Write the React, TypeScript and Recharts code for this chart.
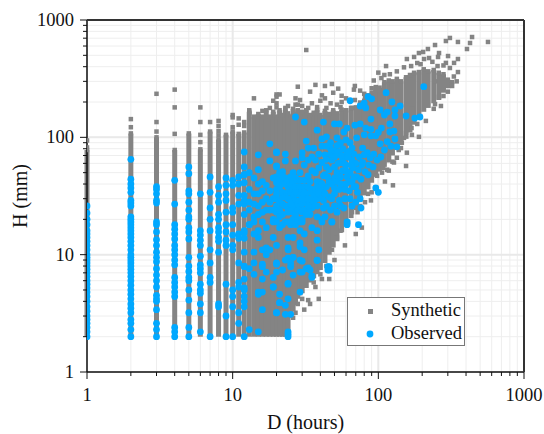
import {
  ScatterChart,
  Scatter,
  XAxis,
  YAxis,
  CartesianGrid,
  ErrorBar,
  Legend,
  ReferenceLine,
} from "recharts";

const FONT = "'Liberation Serif', 'Times New Roman', serif";
const GREY = "#848484";
const BLUE = "#00a8ff";

const logTicks = [
  1, 2, 3, 4, 5, 6, 7, 8, 9, 10, 20, 30, 40, 50, 60, 70, 80, 90, 100, 200, 300,
  400, 500, 600, 700, 800, 900, 1000,
];
const decades = [1, 10, 100, 1000];

// Synthetic cloud is too dense to read point by point, so each duration is a low-high band
const bandDurations = [
  1, 2, 3, 4, 5, 6, 7, 8, 9, 10, 11, 12, 13, 14, 15, 16, 17, 18, 19, 20, 21, 22,
  23, 24, 25, 26, 27, 28, 29, 30, 32, 34, 36, 38, 40, 43, 46, 49, 52, 56, 60, 65,
  70, 75, 80, 85, 90, 96, 102, 110, 118, 125, 134, 143, 155, 165, 176, 190, 205,
  220, 240, 260, 280, 300, 320,
];
const bandLow = [
  2, 2, 2, 2, 2, 2, 2, 2, 2, 2, 2, 2, 2, 2, 2, 2, 2, 2, 2, 2, 2, 2, 2, 2, 2.9,
  3.3, 3.7, 4.2, 4.5, 4.7, 5.2, 5.8, 6.3, 6.8, 7.4, 8.5, 10, 11.5, 13, 15.5, 18,
  20.5, 24, 28, 32, 36, 41, 46, 51, 56, 61, 70, 78, 86, 97, 110, 128, 148, 165,
  178, 195, 208, 240, 262, 285,
];
const bandHigh = [
  78, 108, 100, 78, 108, 79, 112, 96, 105, 112, 107, 110, 165, 150, 158, 150, 170,
  150, 165, 150, 170, 155, 172, 160, 150, 175, 158, 170, 155, 165, 170, 155, 162,
  172, 155, 168, 158, 170, 160, 172, 170, 178, 180, 198, 205, 228, 240, 255, 265,
  295, 305, 300, 315, 300, 325, 340, 355, 360, 380, 365, 375, 355, 345, 310, 295,
];

const syntheticOutliers: [number, number][] = [
  [1, 94], [1, 82], [2, 143], [2, 122], [3, 235], [3, 135], [3, 112], [4, 255],
  [4, 180], [4, 107], [6, 180], [6, 135], [6, 105], [6, 91], [7, 135], [8, 138],
  [8, 125], [8, 113], [8, 104], [10, 155], [10, 148], [10, 122], [11, 145],
  [11, 128], [12, 135], [12, 125], [13, 170], [13, 160], [14, 215], [16, 168],
  [18, 178], [20, 232], [21, 232], [20, 222], [19, 205], [20, 195], [20, 180],
  [23, 178], [27, 190], [30, 185], [33, 178], [38, 181], [44, 178], [56, 200],
  [55, 181], [66, 178], [69, 208], [81, 221], [32, 555], [37, 280], [28, 270],
  [34, 245], [43, 274], [48, 285], [53, 260], [49, 240], [41, 228], [43, 215],
  [56, 226], [27, 215], [69, 274], [68, 255], [75, 250], [100, 356], [110, 340],
  [134, 365], [93, 305], [96, 268], [113, 405], [310, 703], [291, 662], [352, 650],
  [440, 716], [426, 637], [566, 650], [406, 566], [245, 612], [219, 566], [203, 534],
  [190, 523], [261, 523], [301, 493], [257, 484], [223, 474], [206, 465], [176, 484],
  [157, 465], [352, 465], [331, 431], [291, 431], [168, 405], [352, 360], [321, 274],
  [261, 221], [245, 192], [269, 185], [212, 138], [190, 101], [155, 57], [126, 39],
  [111, 42], [89, 29], [81, 28], [72, 23], [143, 81], [157, 74], [134, 67], [128, 61],
  [118, 52], [169, 120], [155, 109], [150, 99], [138, 78], [115, 53], [106, 50],
  [90, 34], [66, 23], [77, 17], [70, 15], [59, 12], [52, 14], [50, 9], [46, 6.2],
  [41, 6.2], [37, 5.3], [39, 4.2], [34, 3.8], [33, 4.1], [31, 3.4], [28, 3.8],
  [27, 3.2], [170, 175], [215, 270], [245, 300], [280, 410], [195, 420], [29, 208],
  [28, 190], [24, 185], [35, 195], [40, 205], [47, 195], [52, 190], [60, 215],
  [80, 235], [90, 262], [105, 320], [120, 345], [150, 395], [185, 430], [235, 440],
  [255, 405], [310, 390], [330, 330], [345, 300], [300, 245], [280, 225], [240, 175],
  [185, 130], [170, 105], [145, 90], [125, 62], [108, 55], [98, 47], [85, 33], [75, 26],
  [62, 19], [55, 16], [48, 11], [44, 8], [40, 6.8], [36, 5.8], [30, 4.2], [26, 2.9],
];

const observedColumns: [number, number[]][] = [
  [1, [2, 2.2, 2.4, 2.6, 2.8, 3, 3.3, 3.6, 4, 4.4, 4.8, 5.2, 5.6, 6, 6.5, 7, 7.5, 8, 8.5, 9, 9.5, 10, 11, 12, 13, 14, 15, 16, 18, 20, 22.6, 26]],
  [2, [65, 44, 40, 37, 34, 29, 27.6, 26, 21, 20, 19, 18, 17, 16, 15, 14, 13, 12, 11, 10, 9.5, 9, 8.5, 8, 7.5, 7, 6.5, 6, 5.5, 5, 4.6, 4.2, 3.8, 3.5, 3.2, 2.8, 2.6, 2.3, 2]],
  [3, [38, 36, 33, 29, 27.5, 19, 18, 15.6, 13.4, 12, 10.5, 9.5, 8.7, 7.6, 6.7, 6, 5.3, 4.5, 4.2, 4, 3.4, 2.6, 2.3, 2]],
  [4, [43, 27, 18, 16.5, 15, 13.6, 12, 11, 10, 9, 8.2, 6.4, 5.8, 5.3, 4.8, 4.4, 2.4, 2.2, 2]],
  [5, [56, 49, 35, 33, 28, 24, 21, 20, 17, 15.6, 13.6, 9.5, 8, 7.2, 6.4, 6, 5, 4.1, 3.2, 2.4, 2]],
  [6, [33, 16, 14.7, 13.3, 12, 9.7, 8.2, 7.6, 7, 5.6, 5, 4.7, 3.8, 3.2, 2.2]],
  [7, [46, 34, 25, 20, 16, 11, 8.5, 6.4, 5.8, 2]],
  [8, [38, 32, 28, 22, 20, 17, 15.6, 14, 13, 10.5, 3.8, 3.6]],
  [9, [45, 39, 33, 29, 23, 18, 15.6, 13.3, 12, 5.6, 3, 2]],
  [10, [43, 39, 25, 23, 18, 14.7, 12, 11, 5, 4.4, 3.6, 2]],
  [11, [46, 40, 32, 27, 15, 13.8, 8.5, 5.8, 5.3, 3.2, 2.6]],
  [12, [48, 32, 27, 22, 16, 13.8, 10.5, 8, 6.2, 5.2, 4.4, 4, 3.6, 2]],
];

const observedCloud: [number, number][] = [
  [205, 270], [113, 240], [64, 205], [85, 222], [90, 213], [80, 196], [75, 185], [82, 178],
  [124, 200], [141, 185], [103, 171], [115, 164], [130, 171], [110, 155], [130, 152], [155, 152],
  [178, 146], [193, 149], [89, 143], [27, 149], [31, 135], [42, 135], [50, 130], [54, 130],
  [75, 130], [69, 127], [38, 115], [61, 120], [58, 111], [120, 130], [89, 117], [120, 111],
  [128, 113], [89, 103], [96, 103], [80, 105], [71, 99], [32, 93], [41, 97], [44, 101],
  [52, 99], [60, 95], [130, 97], [122, 84], [134, 83], [103, 88], [78, 81], [33, 81],
  [36, 81], [41, 84], [47, 90], [55, 90], [64, 90], [66, 81], [84, 74], [93, 72],
  [104, 68], [80, 71], [88, 67], [68, 72], [20, 74], [23, 72], [30, 74], [43, 71],
  [54, 71], [61, 74], [23, 63], [27, 63], [30, 67], [33, 64], [37, 64], [41, 61],
  [48, 64], [56, 61], [66, 64], [78, 61], [20, 57], [31, 58], [44, 56], [73, 53],
  [81, 51], [64, 50], [22, 51], [26, 50], [29, 50], [37, 50], [43, 48], [52, 50],
  [61, 46], [20, 46], [23, 45], [28, 43], [31, 43], [38, 42], [50, 45], [63, 42],
  [70, 38], [96, 37], [100, 34], [20, 36], [24, 38], [30, 37], [35, 36], [42, 36],
  [50, 37], [54, 36], [59, 36], [68, 38], [22, 31], [26, 31], [31, 29], [36, 28],
  [42, 29], [46, 31], [54, 29], [59, 30], [20, 26], [24, 25], [29, 24], [35, 25],
  [50, 26], [58, 25], [20, 23], [26, 23], [43, 21], [52, 23], [73, 18], [61, 18],
  [48, 19], [38, 16], [31, 15], [26, 14], [21, 17], [29, 16], [35, 17], [41, 20],
  [24, 14], [19, 14], [39, 11], [31, 11], [24, 11], [20, 12], [38, 8.9], [29, 9],
  [26, 9.5], [23, 9], [20, 8.3], [46, 7.9], [46, 7.4], [35, 6.6], [32, 7.6], [29, 7.1],
  [26, 6.7], [25, 7.9], [22, 7.4], [20, 7.1], [24, 5.6], [19, 5.3], [29, 4.8], [21, 4.6],
  [24, 4.2], [21, 3.9], [23, 3.7], [20, 3.2], [23, 3.1], [25, 3.1], [24, 2.2], [24, 2],
  [24, 2.1], [18, 88], [15, 71], [20, 75], [12, 75], [12, 56], [18, 63], [20, 56],
  [15, 53], [13, 50], [21, 50], [12, 48], [16, 42], [17, 39], [22, 42], [29, 43],
  [12, 41], [13, 36], [15, 33], [20, 30], [24, 34], [12, 29], [14, 21], [16, 23],
  [18, 24], [21, 24], [25, 24], [30, 20], [14, 19], [17, 17], [22, 18], [38, 21],
  [25, 29], [32, 28], [40, 41], [19, 45], [21, 38], [22, 34], [23, 31], [24, 30],
  [25, 34], [26, 36], [27, 29], [28, 33], [21, 28], [22, 27], [23, 26], [24, 23],
  [25, 27], [26, 26], [27, 22], [28, 24], [30, 27], [20, 33], [18, 35], [19, 30],
  [18, 28], [17, 30], [16, 35], [15, 40], [14, 45], [14, 33], [15, 26], [16, 28],
  [17, 24], [13, 28], [13, 24], [14, 27], [15, 22], [16, 19], [19, 20], [20, 19],
  [21, 21], [22, 22], [23, 19], [24, 19], [25, 18], [26, 20], [27, 18], [28, 20],
  [29, 19], [30, 23], [19, 24], [13, 18], [15, 14], [14, 10.5], [16, 11], [13, 7.6],
  [14, 6.8], [16, 6.2], [17, 7.1], [15, 4.8], [16, 4.8], [19, 5.3], [16, 3.4], [15, 2.2],
  [18, 11], [15, 16], [17, 10], [16, 8.3], [13, 18], [14, 15], [12, 15.3], [19, 19],
  [25, 19], [30, 19], [41, 19], [48, 19], [61, 19], [38, 13.3], [29, 12.6], [17, 11.4],
  [24, 11.4], [29, 11.7], [26, 9.5], [24, 9.4], [30, 8.8], [38, 9], [14, 8.5], [20, 8.5],
  [25, 8.5], [12, 7.9], [16, 7.9], [33, 7.7], [34, 7.4], [45, 7.9], [45, 7.4], [19, 6.4],
  [30, 7.1], [35, 6.4], [24, 5.7], [12, 5], [15, 4.6], [21, 3.9], [20, 3.2], [13, 2.3],
  [20, 41], [21, 44], [22, 47], [23, 40], [24, 43], [25, 46], [25, 40], [26, 42],
  [27, 38], [27, 45], [28, 38], [29, 34], [29, 38], [30, 32], [31, 34], [31, 38],
  [32, 33], [33, 30], [33, 38], [34, 34], [34, 42], [35, 29], [36, 32], [37, 35],
  [38, 30], [39, 33], [40, 36], [41, 30], [42, 25], [43, 33], [44, 38], [46, 42],
  [48, 40], [50, 33], [52, 42], [55, 46], [57, 52], [60, 40], [33, 47], [35, 52],
  [39, 55], [42, 47], [46, 53], [50, 56], [53, 60], [57, 66], [60, 58], [35, 68],
  [39, 72], [44, 65], [47, 72], [50, 76], [52, 85], [57, 80], [63, 76], [67, 55],
  [70, 60], [74, 68], [77, 58], [71, 46], [76, 44], [55, 26], [47, 24], [44, 26],
  [33, 24], [34, 22], [38, 26], [27, 34], [28, 27], [29, 29], [30, 30], [31, 24],
  [32, 22], [33, 26], [47, 80], [50, 68], [44, 84], [53, 75], [56, 70], [58, 60],
  [62, 68], [65, 58], [60, 52], [68, 46], [66, 42], [72, 34], [75, 30], [64, 30],
  [48, 30], [38, 38], [41, 40], [45, 46], [55, 40], [63, 35], [70, 28], [76, 25],
  [66, 26], [85, 48], [92, 56], [98, 64], [86, 58], [110, 78], [115, 92], [100, 110],
  [105, 120], [82, 120],
];

const bandData = bandDurations.map((d, i) => ({
  d,
  h: bandHigh[i],
  err: [bandHigh[i] - bandLow[i], 0],
}));
const outlierData = syntheticOutliers.map(([d, h]) => ({ d, h }));
const observedData = [
  ...observedColumns.flatMap(([d, hs]) => hs.map((h) => ({ d, h }))),
  ...observedCloud.map(([d, h]) => ({ d, h })),
];

const Square = ({ cx, cy }: any) => (
  <rect x={cx - 2.25} y={cy - 2.25} width={4.5} height={4.5} fill={GREY} />
);
const Dot = ({ cx, cy }: any) => <circle cx={cx} cy={cy} r={3.4} fill={BLUE} />;

const isDecade = (v: number) => decades.includes(v);

const BottomTick = ({ x, y, payload }: any) => (
  <g>
    <line x1={x} x2={x} y1={y} y2={y + (isDecade(payload.value) ? 7 : 4)} stroke="#111" />
    {isDecade(payload.value) && (
      <text x={x} y={y + 29} textAnchor="middle" fontFamily={FONT} fontSize={18.5} fill="#111">
        {payload.value}
      </text>
    )}
  </g>
);
const LeftTick = ({ x, y, payload }: any) => (
  <g>
    <line x1={x} x2={x - (isDecade(payload.value) ? 7 : 4)} y1={y} y2={y} stroke="#111" />
    {isDecade(payload.value) && (
      <text x={x - 13} y={y + 6} textAnchor="end" fontFamily={FONT} fontSize={18.5} fill="#111">
        {payload.value}
      </text>
    )}
  </g>
);
const TopTick = ({ x, y, payload }: any) => (
  <line x1={x} x2={x} y1={y} y2={y + (isDecade(payload.value) ? 7 : 4)} stroke="#111" />
);
const RightTick = ({ x, y, payload }: any) => (
  <line x1={x} x2={x - (isDecade(payload.value) ? 7 : 4)} y1={y} y2={y} stroke="#111" />
);

function LegendBox() {
  const row = { display: "flex", alignItems: "center", height: 23 };
  return (
    <div
      style={{
        boxSizing: "border-box",
        width: 118,
        height: 49,
        padding: "1px 0",
        background: "#fff",
        border: "1px solid #777",
        fontFamily: FONT,
        fontSize: 18.5,
        lineHeight: "23px",
        color: "#111",
      }}
    >
      <div style={row}>
        <svg width={43} height={12}>
          <rect x={20} y={4} width={5} height={5} fill={GREY} />
        </svg>
        Synthetic
      </div>
      <div style={row}>
        <svg width={43} height={12}>
          <circle cx={22} cy={6} r={3.4} fill={BLUE} />
        </svg>
        Observed
      </div>
    </div>
  );
}

export default function App() {
  return (
    <div style={{ position: "absolute", left: 0, top: 0 }}>
      <ScatterChart
        width={544}
        height={434}
        margin={{ top: 19, right: 19, bottom: 0, left: 27 }}
      >
        <CartesianGrid stroke="#eeeeee" />
        {decades.map((v) => (
          <ReferenceLine key={"x" + v} x={v} stroke="#e9e9e9" strokeWidth={2} />
        ))}
        {decades.map((v) => (
          <ReferenceLine key={"y" + v} y={v} stroke="#e9e9e9" strokeWidth={2} />
        ))}
        <XAxis
          type="number"
          dataKey="d"
          scale="log"
          domain={[1, 1000]}
          allowDataOverflow
          ticks={logTicks}
          interval={0}
          height={62}
          tickSize={0}
          tickMargin={0}
          tickLine={false}
          tick={BottomTick}
          axisLine={{ stroke: "#111", strokeWidth: 1.5 }}
          label={{
            value: "D (hours)",
            position: "insideBottom",
            offset: 5,
            style: { fontFamily: FONT, fontSize: 20, fill: "#111" },
          }}
        />
        <YAxis
          type="number"
          dataKey="h"
          scale="log"
          domain={[1, 1000]}
          ticks={logTicks}
          interval={0}
          width={60}
          tickSize={0}
          tickMargin={0}
          tickLine={false}
          tick={LeftTick}
          axisLine={{ stroke: "#111", strokeWidth: 1.5 }}
          label={{
            value: "H (mm)",
            angle: -90,
            position: "insideLeft",
            offset: -7,
            style: { fontFamily: FONT, fontSize: 20, fill: "#111", textAnchor: "middle" },
          }}
        />
        <XAxis
          xAxisId="top"
          orientation="top"
          type="number"
          dataKey="d"
          scale="log"
          domain={[1, 1000]}
          ticks={logTicks}
          interval={0}
          height={1}
          tickSize={0}
          tickMargin={0}
          tickLine={false}
          tick={TopTick}
          axisLine={{ stroke: "#333", strokeWidth: 2 }}
        />
        <YAxis
          yAxisId="right"
          orientation="right"
          type="number"
          dataKey="h"
          scale="log"
          domain={[1, 1000]}
          ticks={logTicks}
          interval={0}
          width={1}
          tickSize={0}
          tickMargin={0}
          tickLine={false}
          tick={RightTick}
          axisLine={{ stroke: "#333", strokeWidth: 2 }}
        />
        <Scatter name="Synthetic" data={bandData} shape={Square} isAnimationActive={false}>
          <ErrorBar
            direction="y"
            dataKey="err"
            width={0}
            stroke={GREY}
            strokeWidth={5}
            isAnimationActive={false}
          />
        </Scatter>
        <Scatter name="Synthetic outliers" data={outlierData} shape={Square} isAnimationActive={false} />
        <Scatter name="Observed" data={observedData} shape={Dot} isAnimationActive={false} />
        <Legend
          layout="horizontal"
          align="center"
          verticalAlign="middle"
          wrapperStyle={{ left: 347, top: 297, width: 118, height: 49 }}
          content={() => <LegendBox />}
        />
      </ScatterChart>
    </div>
  );
}
